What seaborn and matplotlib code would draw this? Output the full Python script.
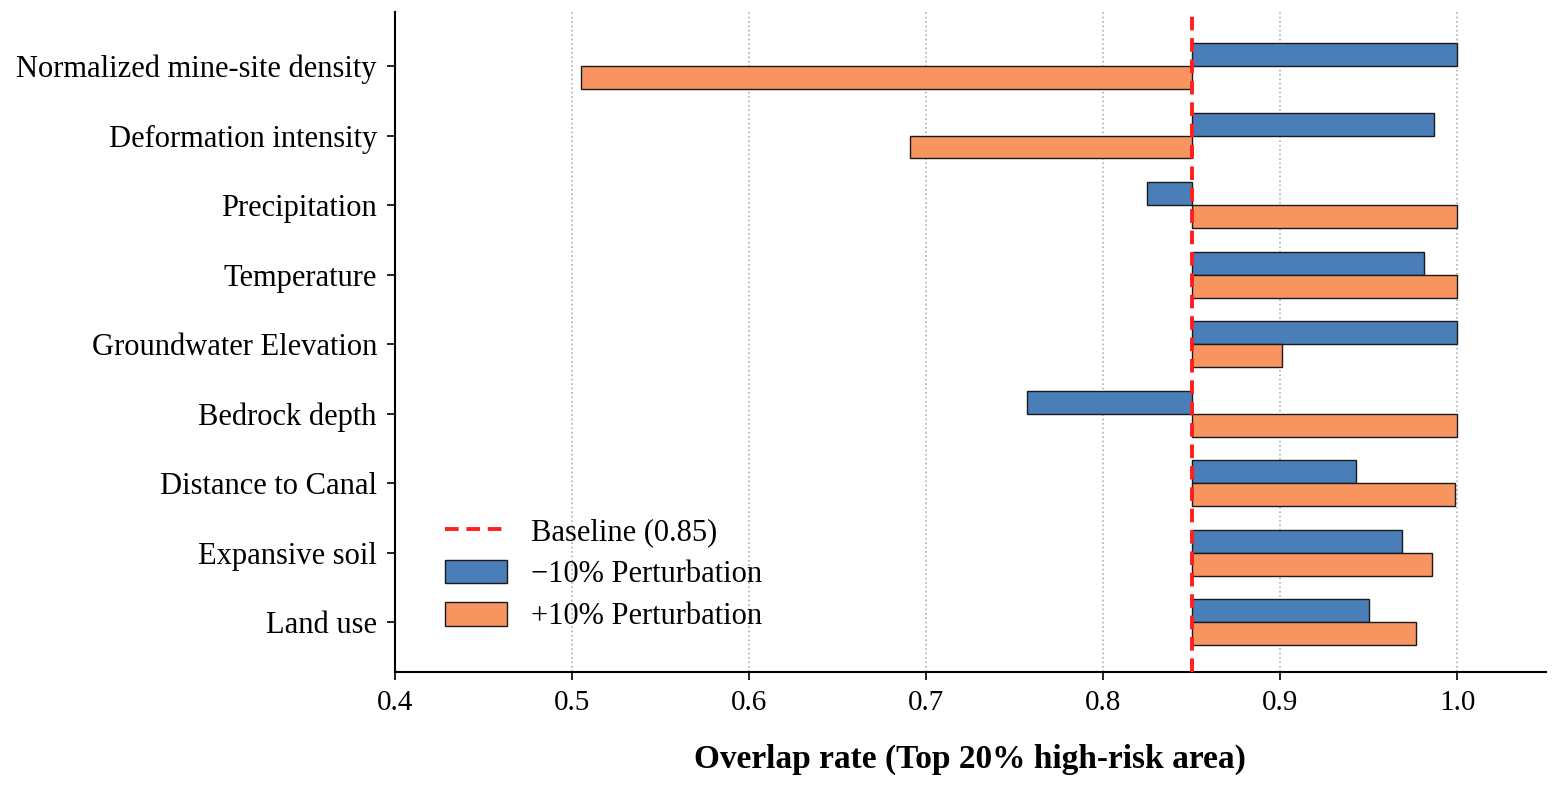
import numpy as np
import matplotlib
matplotlib.use("Agg")
import matplotlib.pyplot as plt
import seaborn as sns

# =========================
# DATA
# =========================
factors = [
    "Normalized mine-site density",
    "Deformation intensity",
    "Precipitation",
    "Temperature",
    "Groundwater Elevation",
    "Bedrock depth",
    "Distance to Canal",
    "Expansive soil",
    "Land use",
]
minus10 = [1.000, 0.987, 0.825, 0.981, 1.000, 0.757, 0.943, 0.969, 0.950]
plus10 = [0.505, 0.691, 1.000, 1.000, 0.901, 1.000, 0.999, 0.986, 0.977]
baseline = 0.85
xticks = [0.4, 0.5, 0.6, 0.7, 0.8, 0.9, 1.0]

BLUE = "#4A7EB8"
ORANGE = "#F79460"

# =========================
# STYLE
# =========================
sns.set_style("ticks", {"axes.edgecolor": "black", "xtick.color": "black",
                        "ytick.color": "black", "text.color": "black",
                        "axes.labelcolor": "black"})
plt.rcParams["font.family"] = ["Liberation Serif", "DejaVu Serif"]

fig, ax = plt.subplots(figsize=(15.55, 7.88), dpi=100)
fig.subplots_adjust(left=0.254, right=0.994, top=0.985, bottom=0.147)

y = np.arange(len(factors))
h = 0.33

ax.barh(y - h / 2, np.array(minus10) - baseline, height=h, left=baseline,
        color=BLUE, edgecolor="#1a1a1a", linewidth=1.0,
        label="\u221210% Perturbation", zorder=2)
ax.barh(y + h / 2, np.array(plus10) - baseline, height=h, left=baseline,
        color=ORANGE, edgecolor="#1a1a1a", linewidth=1.0,
        label="+10% Perturbation", zorder=2)
ax.axvline(baseline, color="#FF1F1F", linestyle=(0, (3.5, 2)), linewidth=2.8,
           label="Baseline (0.85)", zorder=3)

ax.set_yticks(y)
ax.set_yticklabels(factors, fontsize=22)
ax.set_ylim(len(factors) - 1 + 0.72, -0.78)
ax.set_xlim(0.4, 1.05)
ax.set_xticks(xticks)
ax.set_xticklabels([f"{t:.1f}" for t in xticks], fontsize=21)
ax.tick_params(axis="both", length=6, width=1.2, pad=7, colors="black")
ax.set_xlabel("Overlap rate (Top 20% high-risk area)", fontsize=24,
              fontweight="bold", labelpad=20)

ax.grid(axis="x", linestyle=":", color="#b0b0b0", linewidth=1.2, zorder=0)
ax.set_axisbelow(True)
sns.despine(ax=ax)
for s in ["left", "bottom"]:
    ax.spines[s].set_linewidth(1.5)
    ax.spines[s].set_color("black")

handles, labels = ax.get_legend_handles_labels()
ax.legend(handles, labels,
          loc="lower left", bbox_to_anchor=(0.02, 0.02), frameon=False,
          fontsize=22, handlelength=2.0, handleheight=0.8, labelspacing=0.42,
          handletextpad=0.8)

plt.savefig("out.png", dpi=100)
plt.close()
